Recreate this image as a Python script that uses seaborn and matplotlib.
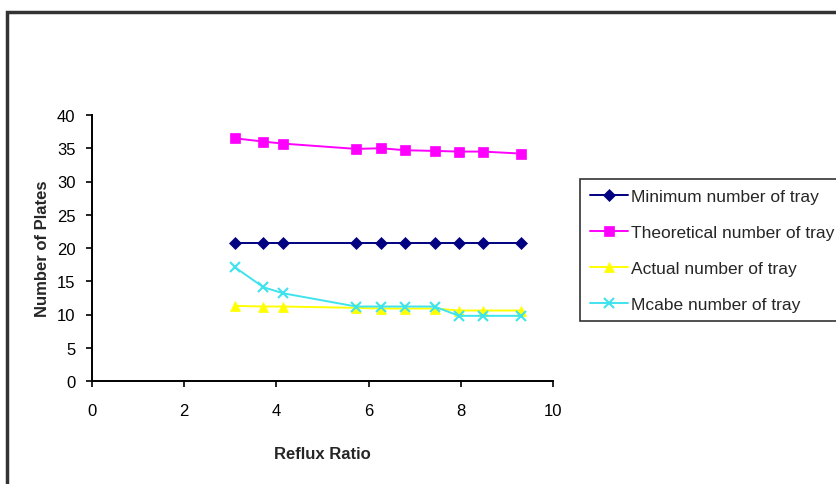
import matplotlib
matplotlib.use("Agg")
import matplotlib.pyplot as plt
import seaborn as sns
import pandas as pd
from matplotlib.patches import Rectangle

# data
reflux = [3.1, 3.72, 4.14, 5.73, 6.27, 6.8, 7.43, 7.96, 8.48, 9.3]
minimum = [20.8, 20.8, 20.8, 20.8, 20.8, 20.8, 20.8, 20.8, 20.8, 20.8]
theoretical = [36.5, 36.0, 35.7, 34.9, 35.0, 34.7, 34.6, 34.5, 34.5, 34.2]
actual = [11.3, 11.2, 11.2, 11.0, 10.9, 10.9, 10.9, 10.6, 10.6, 10.6]
mcabe = [17.1, 14.1, 13.2, 11.2, 11.2, 11.2, 11.2, 9.8, 9.8, 9.8]

series = [
    ("Minimum number of tray", minimum, "#000080", "D", 6),
    ("Theoretical number of tray", theoretical, "#FF00FF", "s", 7),
    ("Actual number of tray", actual, "#FFFF00", "^", 7),
    ("Mcabe number of tray", mcabe, "#3FE3EE", "x", 7),
]

sns.set_style("white")
plt.rcParams['font.family'] = ['Liberation Sans', 'DejaVu Sans']

fig = plt.figure(figsize=(8.36, 4.85), dpi=100)
ax = fig.add_axes([92 / 836, 1 - 382 / 485, (553 - 92) / 836, (382 - 116) / 485])

for name, vals, col, mk, ms in series:
    df = pd.DataFrame({"x": reflux, "y": vals})
    sns.lineplot(data=df, x="x", y="y", ax=ax, color=col, marker=mk,
                 markersize=ms, markeredgecolor=col,
                 markeredgewidth=1.5 if mk == "x" else 0.5,
                 linewidth=1.4, label=name)

ax.set_xlim(0, 10)
ax.set_ylim(0, 40)
ax.set_xticks(range(0, 11, 2))
ax.set_yticks(range(0, 41, 5))
ax.tick_params(axis="both", direction="out", length=4, width=1.2, labelsize=12,
               bottom=True, left=True, colors="black")
ax.tick_params(axis="x", pad=12)
ax.tick_params(axis="y", pad=8)
for s in ["top", "right"]:
    ax.spines[s].set_visible(False)
for s in ["left", "bottom"]:
    ax.spines[s].set_color("black")
    ax.spines[s].set_linewidth(1.4)

ax.set_xlabel("Reflux Ratio", fontsize=12, fontweight="bold", labelpad=20)
ax.set_ylabel("Number of Plates", fontsize=12, fontweight="bold", labelpad=5)

leg = ax.legend(loc="upper left", bbox_to_anchor=(580 / 836, 1 - 180 / 485),
                bbox_transform=fig.transFigure, frameon=True, fancybox=False,
                fontsize=12.5, handlelength=2.2, handletextpad=0.2,
                labelspacing=1.2, borderpad=0.55, borderaxespad=0)
leg.get_frame().set_edgecolor("black")
leg.get_frame().set_linewidth(1.2)

# outer chart border
fig.patches.append(Rectangle((7 / 836, -0.1), 1.2, 1 - 13 / 485 + 0.1,
                             transform=fig.transFigure, fill=False,
                             edgecolor="#333333", linewidth=2.5))

fig.savefig("out.png", dpi=100)
